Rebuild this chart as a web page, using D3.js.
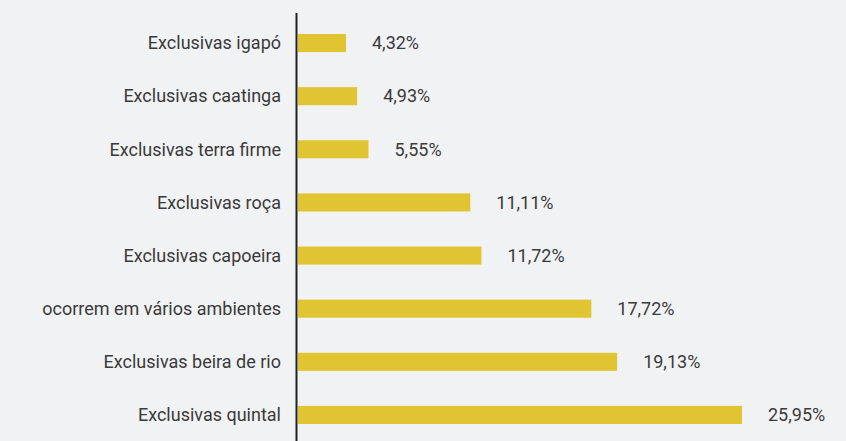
<!DOCTYPE html>
<html>
<head>
<meta charset="utf-8">
<script src="https://cdn.jsdelivr.net/npm/d3@7"></script>
<style>
  html, body { margin: 0; padding: 0; background: #f1f2f4; }
  svg text { font-family: Roboto, "Open Sans", sans-serif; fill: #3a3a3a; }
</style>
</head>
<body>
<div id="chart"></div>
<script>
// categories, top to bottom
var categories = [
  'Exclusivas igapó',
  'Exclusivas caatinga',
  'Exclusivas terra firme',
  'Exclusivas roça',
  'Exclusivas capoeira',
  'ocorrem em vários ambientes',
  'Exclusivas beira de rio',
  'Exclusivas quintal'
]
// share of species, percent
var values = [4.32, 4.93, 5.55, 11.11, 11.72, 17.72, 19.13, 25.95]

var width = 846
var height = 441
var margin = { top: 16.5, left: 298 }

var svg = d3.select('#chart')
  .append('svg')
  .attr('width', width)
  .attr('height', height)

// bars are drawn on a truncated axis (as in the original graphic)
var x = d3.scaleLinear().domain([1.7, 25.95]).range([margin.left, 742])
var y = d3.scaleBand().domain(categories).range([margin.top, 441.5]).paddingInner(0.66).paddingOuter(0.33)

var rows = svg.append('g').selectAll('g')
  .data(categories)
  .enter()
  .append('g')

rows.append('rect')
  .attr('x', margin.left)
  .attr('y', function (d) { return y(d) })
  .attr('width', function (d, i) { return x(values[i]) - margin.left })
  .attr('height', y.bandwidth())
  .attr('fill', '#e0c431')

rows.append('text')
  .attr('x', 281)
  .attr('y', function (d) { return y(d) + y.bandwidth() / 2 })
  .attr('dy', '0.35em')
  .attr('text-anchor', 'end')
  .attr('font-size', 18)
  .text(function (d) { return d })

rows.append('text')
  .attr('x', function (d, i) { return x(values[i]) + 26 })
  .attr('y', function (d) { return y(d) + y.bandwidth() / 2 })
  .attr('dy', '0.35em')
  .attr('font-size', 18)
  .text(function (d, i) { return values[i].toFixed(2).replace('.', ',') + '%' })

// vertical axis line
svg.append('line')
  .attr('x1', 296.5).attr('x2', 296.5)
  .attr('y1', 13).attr('y2', height)
  .attr('stroke', '#222')
  .attr('stroke-width', 2)
</script>
</body>
</html>
